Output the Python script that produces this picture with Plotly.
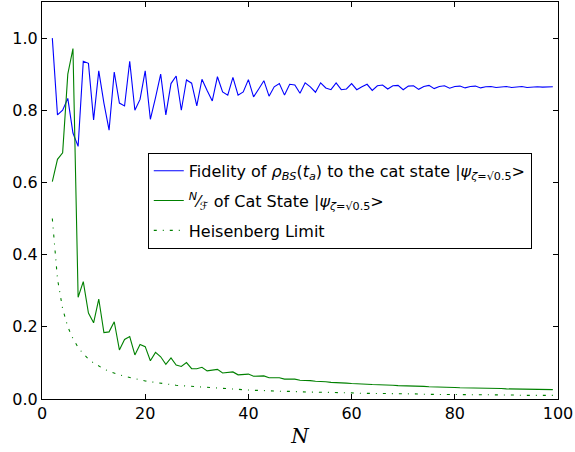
import plotly.graph_objects as go

N = list(range(2, 100))

fidelity = [
    1.000, 0.787, 0.800, 0.833, 0.737, 0.700, 0.936, 0.930, 0.773, 0.909,
    0.820, 0.745, 0.906, 0.820, 0.812, 0.936, 0.800, 0.830, 0.909, 0.775,
    0.835, 0.900, 0.787, 0.874, 0.895, 0.800, 0.884, 0.875, 0.812, 0.886,
    0.855, 0.826, 0.893, 0.851, 0.842, 0.891, 0.842, 0.851, 0.885, 0.837,
    0.859, 0.882, 0.839, 0.865, 0.874, 0.842, 0.872, 0.870, 0.847, 0.876,
    0.865, 0.850, 0.876, 0.862, 0.857, 0.876, 0.857, 0.859, 0.874, 0.857,
    0.865, 0.872, 0.855, 0.868, 0.870, 0.859, 0.868, 0.869, 0.857, 0.867,
    0.868, 0.858, 0.866, 0.869, 0.860, 0.866, 0.868, 0.861, 0.866, 0.867,
    0.862, 0.866, 0.867, 0.862, 0.865, 0.866, 0.863, 0.865, 0.866, 0.863,
    0.865, 0.866, 0.863, 0.865, 0.865, 0.864, 0.865, 0.865,
]

cat_state = [
    0.602, 0.664, 0.682, 0.900, 0.971, 0.282, 0.325, 0.238, 0.211, 0.277,
    0.184, 0.186, 0.214, 0.136, 0.165, 0.173, 0.122, 0.151, 0.145, 0.106,
    0.129, 0.117, 0.096, 0.114, 0.094, 0.090, 0.101, 0.084, 0.084, 0.088,
    0.078, 0.080, 0.082, 0.072, 0.074, 0.075, 0.067, 0.069, 0.069, 0.063,
    0.064, 0.064, 0.059, 0.060, 0.059, 0.055, 0.056, 0.055, 0.052, 0.052,
    0.051, 0.049, 0.049, 0.048, 0.046, 0.046, 0.045, 0.044, 0.043, 0.043,
    0.042, 0.041, 0.040, 0.040, 0.039, 0.038, 0.038, 0.037, 0.037, 0.036,
    0.035, 0.035, 0.035, 0.034, 0.034, 0.033, 0.033, 0.032, 0.032, 0.031,
    0.031, 0.031, 0.030, 0.030, 0.030, 0.029, 0.029, 0.029, 0.028, 0.028,
    0.028, 0.027, 0.027, 0.027, 0.027, 0.026, 0.026, 0.026,
]

heisenberg = [
    0.500, 0.333, 0.250, 0.200, 0.167, 0.143, 0.125, 0.111, 0.100, 0.091,
    0.083, 0.077, 0.071, 0.067, 0.063, 0.059, 0.056, 0.053, 0.050, 0.048,
    0.045, 0.043, 0.042, 0.040, 0.038, 0.037, 0.036, 0.034, 0.033, 0.032,
    0.031, 0.030, 0.029, 0.029, 0.028, 0.027, 0.026, 0.026, 0.025, 0.024,
    0.024, 0.023, 0.023, 0.022, 0.022, 0.021, 0.021, 0.020, 0.020, 0.020,
    0.019, 0.019, 0.019, 0.018, 0.018, 0.018, 0.017, 0.017, 0.017, 0.016,
    0.016, 0.016, 0.016, 0.015, 0.015, 0.015, 0.015, 0.014, 0.014, 0.014,
    0.014, 0.014, 0.013, 0.013, 0.013, 0.013, 0.013, 0.012, 0.012, 0.012,
    0.012, 0.012, 0.012, 0.011, 0.011, 0.011, 0.011, 0.011, 0.011, 0.011,
    0.011, 0.010, 0.010, 0.010, 0.010, 0.010, 0.010, 0.010,
]

x_ticks = [0, 20, 40, 60, 80, 100]
y_ticks = [0.0, 0.2, 0.4, 0.6, 0.8, 1.0]

names = [
    "Fidelity of <i>ρ</i><sub><i>BS</i></sub>(<i>t</i><sub><i>a</i></sub>) to the cat state |<i>ψ</i><sub><i>ζ</i>=√0.5</sub>&gt;",
    "<sup><i>N</i></sup>⁄<sub><i>ℱ</i></sub> of Cat State |<i>ψ</i><sub><i>ζ</i>=√0.5</sub>&gt;",
    "Heisenberg Limit",
]

fig = go.Figure()
fig.add_trace(go.Scatter(x=N, y=fidelity, mode="lines", name=names[0], legendgroup="a",
                         line=dict(color="#0000ff", width=1.1)))
fig.add_trace(go.Scatter(x=N, y=cat_state, mode="lines", name=names[1], legendgroup="b",
                         line=dict(color="#008000", width=1.1)))
fig.add_trace(go.Scatter(x=N, y=heisenberg, mode="lines", name=names[2], legendgroup="c",
                         line=dict(color="#008000", width=1.1, dash="3px,6px,1px,6px")))

axis_common = dict(showline=True, linecolor="black", linewidth=1, mirror="ticks",
                   ticks="inside", ticklen=5, tickcolor="black", showgrid=False,
                   zeroline=False, tickfont=dict(family="DejaVu Sans", size=16, color="black"))

fig.update_xaxes(range=[0, 100], tickvals=x_ticks, ticktext=[str(v) for v in x_ticks],
                 title=dict(text="<i>N</i>", font=dict(family="DejaVu Serif", size=20, color="black"),
                            standoff=6),
                 **axis_common)
fig.update_yaxes(range=[0, 1.1], tickvals=y_ticks, ticktext=[f"{v:.1f}" for v in y_ticks],
                 **axis_common)

fig.update_layout(
    width=575, height=452,
    margin=dict(l=42, r=17, t=2, b=53),
    paper_bgcolor="white", plot_bgcolor="white",
    font=dict(family="DejaVu Sans", size=16, color="black"),
    legend=dict(x=0.205, y=0.62, xanchor="left", yanchor="top",
                bordercolor="black", borderwidth=1, bgcolor="white",
                font=dict(family="DejaVu Sans", size=16, color="black"),
                itemwidth=30, tracegroupgap=6),
    showlegend=True,
)

fig.write_html("out.html")
